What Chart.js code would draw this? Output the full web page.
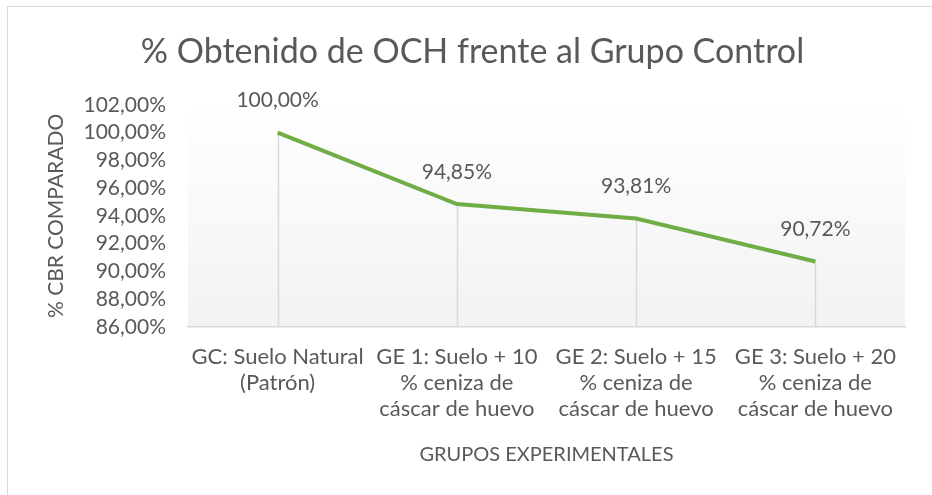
<!DOCTYPE html>
<html>
<head>
<meta charset="utf-8">
<script src="https://cdn.jsdelivr.net/npm/chart.js@4.4.1/dist/chart.umd.min.js"></script>
<style>
  html, body { margin: 0; padding: 0; background: #fff; }
  #wrap { width: 932px; height: 495px; position: relative; }
</style>
</head>
<body>
<div id="wrap"><canvas id="myChart" width="932" height="495"></canvas></div>
<script>
// Chart data
var categories = [
  ['GC: Suelo Natural', '(Patrón)'],
  ['GE 1: Suelo + 10', '% ceniza de', 'cáscar de huevo'],
  ['GE 2: Suelo + 15', '% ceniza de', 'cáscar de huevo'],
  ['GE 3: Suelo + 20', '% ceniza de', 'cáscar de huevo'],
];
var cbrValues = [100.0, 94.85, 93.81, 90.72];
var yMin = 86;
var yMax = 102;
var yStep = 2;

var FONT = 'Lato';
var TEXT = '#595959';

function pct(v) {
  return v.toFixed(2).replace('.', ',') + '%';
}

// background gradient, border, drop lines and value labels
var excelLook = {
  id: 'excelLook',
  beforeDraw: function (chart) {
    var ctx = chart.ctx;
    var a = chart.chartArea;
    ctx.save();
    ctx.fillStyle = '#fff';
    ctx.fillRect(0, 0, chart.width, chart.height);
    var g = ctx.createLinearGradient(0, a.top, 0, a.bottom);
    g.addColorStop(0, '#ffffff');
    g.addColorStop(1, '#f2f2f2');
    ctx.fillStyle = g;
    ctx.fillRect(a.left, a.top, a.right - a.left, a.bottom - a.top);
    ctx.strokeStyle = '#d9d9d9';
    ctx.lineWidth = 1;
    ctx.strokeRect(7.5, 6.5, chart.width + 10, chart.height + 10);
    ctx.restore();
  },
  beforeDatasetsDraw: function (chart) {
    var ctx = chart.ctx;
    var meta = chart.getDatasetMeta(0);
    var bottom = chart.scales.y.getPixelForValue(yMin);
    ctx.save();
    ctx.strokeStyle = '#d9d9d9';
    ctx.lineWidth = 1.5;
    meta.data.forEach(function (pt) {
      var x = Math.round(pt.x) + 0.5;
      ctx.beginPath();
      ctx.moveTo(x, pt.y);
      ctx.lineTo(x, bottom);
      ctx.stroke();
    });
    ctx.restore();
  },
  afterDatasetsDraw: function (chart) {
    var ctx = chart.ctx;
    var meta = chart.getDatasetMeta(0);
    ctx.save();
    ctx.fillStyle = TEXT;
    ctx.font = '21px ' + FONT;
    ctx.textAlign = 'center';
    ctx.textBaseline = 'middle';
    meta.data.forEach(function (pt, i) {
      ctx.fillText(pct(cbrValues[i]), pt.x, pt.y - 32);
    });
    ctx.restore();
  },
};

var ctx = document.getElementById('myChart').getContext('2d');
var myChart = new Chart(ctx, {
  type: 'line',
  data: {
    labels: categories,
    datasets: [
      {
        data: cbrValues,
        borderColor: '#70ad47',
        borderWidth: 4,
        pointRadius: 0,
        tension: 0,
        fill: false,
      },
    ],
  },
  options: {
    responsive: false,
    animation: false,
    layout: { padding: { left: 40, right: 27, top: 10, bottom: 28 } },
    plugins: {
      legend: { display: false },
      tooltip: { enabled: false },
      title: {
        display: true,
        text: '% Obtenido de OCH frente al Grupo Control',
        color: TEXT,
        font: { family: FONT, size: 34, weight: 'normal' },
        padding: { top: 22, bottom: 32 },
      },
    },
    scales: {
      x: {
        offset: true,
        grid: { display: false, drawTicks: false },
        border: { display: true, color: '#d9d9d9', width: 1.5 },
        afterFit: function (scale) {
          scale.height = 140;
        },
        ticks: {
          color: TEXT,
          font: { family: FONT, size: 22, lineHeight: 1.18 },
          padding: 17,
          maxRotation: 0,
          autoSkip: false,
        },
        title: {
          display: true,
          text: 'GRUPOS EXPERIMENTALES',
          color: TEXT,
          font: { family: FONT, size: 20 },
          padding: { top: 4, bottom: 0 },
        },
      },
      y: {
        min: yMin,
        max: yMax,
        grid: { display: false, drawTicks: false },
        border: { display: false },
        afterFit: function (scale) {
          scale.width = 148;
        },
        ticks: {
          stepSize: yStep,
          autoSkip: false,
          color: TEXT,
          font: { family: FONT, size: 21 },
          padding: 22,
          callback: function (v) {
            return pct(v);
          },
        },
        title: {
          display: true,
          text: '% CBR COMPARADO',
          color: TEXT,
          font: { family: FONT, size: 21 },
          padding: { top: 4, bottom: 4 },
        },
      },
    },
  },
  plugins: [excelLook],
});
</script>
</body>
</html>
